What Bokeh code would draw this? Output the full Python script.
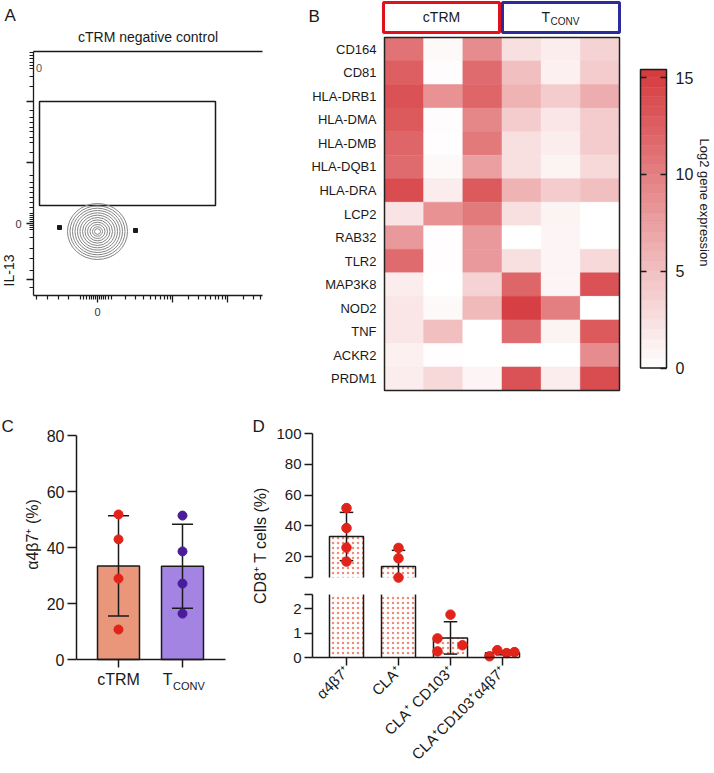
import numpy as np
from bokeh.plotting import figure
from bokeh.models import Range1d, FixedTicker, LinearAxis
from bokeh.transform import linear_cmap
from bokeh.embed import file_html
from bokeh.resources import INLINE
from bokeh.core.properties import value

FONT = "Liberation Sans"
INK = "#1a1a1a"
W, H = 714, 773

# ---------------- Panel A : flow plot (display units) ----------------
a_x_major = [64, 139, 194]
a_x_minor = [3, 14, 25, 35, 47, 50, 53, 56, 58, 60, 62, 66, 68, 70, 72, 75, 78,
             92, 102, 110, 117, 122, 127, 131, 134, 137,
             155, 165, 172, 177, 182, 185, 189, 192, 210, 220, 227]
a_y_major = [194, 133, 72, 16]
a_y_minor = [243, 240, 237, 233, 230, 227, 219, 209,
             185, 178, 173, 168, 164, 158, 153, 143,
             120, 113, 108, 103, 98, 93, 88, 82, 80, 78, 76, 74, 70, 68, 66,
             58, 47, 37, 25, 8]
a_gate = [6, 182, 90, 194]           # left, right, bottom, top
a_pop = [64, 64]                      # population centre
a_ring_rx = [30, 27.5, 25, 22.5, 20, 17.5, 15, 12.5, 10, 7.5, 5, 3]
a_ring_ry = [28, 25.6, 23.3, 21, 18.6, 16.3, 14, 11.6, 9.3, 7, 4.7, 2.8]
a_event_x = [26, 102]
a_event_y = [68, 65]

# ---------------- Panel B : heatmap ----------------
genes = ["CD164", "CD81", "HLA-DRB1", "HLA-DMA", "HLA-DMB", "HLA-DQB1", "HLA-DRA",
         "LCP2", "RAB32", "TLR2", "MAP3K8", "NOD2", "TNF", "ACKR2", "PRDM1"]
samples = ["cTRM 1", "cTRM 2", "cTRM 3", "TCONV 1", "TCONV 2", "TCONV 3"]
expr = [
    [11.0, 0.5, 9.0, 2.5, 1.5, 3.5],
    [12.5, 0.3, 11.5, 5.0, 1.2, 4.0],
    [13.5, 8.5, 12.0, 6.0, 4.0, 6.5],
    [13.0, 0.3, 9.5, 4.0, 2.0, 4.0],
    [12.0, 0.2, 10.5, 2.5, 1.5, 4.0],
    [11.5, 0.5, 7.5, 2.5, 1.0, 3.0],
    [14.0, 1.5, 13.0, 6.0, 4.0, 5.0],
    [2.2, 8.5, 10.5, 2.5, 1.0, 0.0],
    [8.0, 0.2, 8.0, 0.0, 0.8, 0.0],
    [11.5, 0.2, 8.0, 2.5, 0.8, 3.0],
    [1.5, 0.0, 3.5, 12.0, 0.8, 13.5],
    [2.0, 0.5, 5.5, 15.0, 10.0, 0.0],
    [2.0, 5.0, 0.0, 11.5, 1.0, 13.0],
    [1.2, 0.2, 0.0, 0.0, 0.0, 9.0],
    [1.5, 3.0, 0.8, 13.5, 1.5, 14.0],
]
cbar_ticks = [0, 5, 10, 15]
cbar_max = 15.41

# ---------------- Panel C ----------------
c_groups = ["cTRM", "TCONV"]
c_pos = [1, 2]
c_mean = [33.4, 33.3]
c_sd = [17.9, 15.0]
c_pts_ctrm = [51.8, 42.9, 28.9, 10.7]
c_pts_tconv = [51.4, 38.6, 27.1, 16.4]
c_bar_colors = ["#E9967A", "#A384E3"]
c_pt_colors = ["#E2231A", "#4A1C9C"]
c_yticks = [0, 20, 40, 60, 80]

# ---------------- Panel D ----------------
d_labels = ["α4β7⁺", "CLA⁺", "CLA⁺ CD103⁺", "CLA⁺CD103⁺α4β7⁺"]
d_pos = [1, 2, 3, 4]
d_mean = [33.0, 13.5, 0.80, 0.19]
d_sd = [15.7, 10.5, 0.66, 0.08]
d_pt_x = [1, 1, 1, 1, 2, 2, 2, 2.75, 2.75, 3, 3.23, 3.75, 3.9, 4.08, 4.23]
d_pt_y = [51.5, 38.5, 25.8, 16.7, 25.6, 18.8, 6.3, 0.78, 0.25, 1.75, 0.5, 0.05, 0.3, 0.18, 0.22]
d_upper = (6.3, 100.0)     # upper axis segment
d_lower = (0.0, 2.57)      # lower axis segment
d_upper_ticks = [20, 40, 60, 80, 100]
d_lower_ticks = [0, 1, 2]


def make_palette(n=256, lo=(255, 255, 255), hi=(213, 58, 62)):
    out = []
    for i in range(n):
        t = i / (n - 1)
        c = [round(lo[k] + (hi[k] - lo[k]) * t) for k in range(3)]
        out.append("#%02x%02x%02x" % tuple(c))
    return out


PAL = make_palette()


def xr(v0, p0, v1, p1):
    """x range so that value v0 sits at pixel p0 and v1 at pixel p1."""
    s = (p1 - p0) / (v1 - v0)
    start = v0 - p0 / s
    return Range1d(start, start + W / s)


def yr(v0, p0, v1, p1):
    """y range so that value v0 sits at pixel row p0 and v1 at row p1 (rows from top)."""
    b0, b1 = H - p0, H - p1
    s = (b1 - b0) / (v1 - v0)
    start = v0 - b0 / s
    return Range1d(start, start + H / s)


p = figure(width=W, height=H, output_backend="svg", toolbar_location=None,
           x_range=Range1d(0, W), y_range=Range1d(0, H),
           x_axis_location=None, y_axis_location=None, min_border=0)
p.outline_line_color = None
p.xgrid.visible = False
p.ygrid.visible = False

# panel placement (pixel anchors of each panel's axes)
p.extra_x_ranges = {
    "ax": xr(0, 33, 229, 262),
    "bx": xr(-0.5, 384, 5.5, 619),
    "kx": xr(0, 640, 1, 666),
    "cx": xr(1, 118, 2, 182),
    "dx": xr(1, 346, 2, 398),
}
p.extra_y_ranges = {
    "ay": yr(0, 295, 244, 51),
    "by": yr(-0.5, 390, 14.5, 37),
    "ky": yr(0, 367.5, 15, 77),
    "cy": yr(0, 659, 80, 435),
    "duy": yr(20, 556, 100, 433),
    "dly": yr(0, 657, 2, 608),
}


def R(a, b):
    return dict(x_range_name=a, y_range_name=b)


def txt(xn, yn, x, y, s, size, align="left", baseline="middle", angle=0.0, color=INK):
    p.text(x=[x], y=[y], text=[s], text_font=value(FONT), text_font_size=size,
           text_align=align, text_baseline=baseline, angle=angle, text_color=color, **R(xn, yn))


def axis(side, xn, yn, loc, ticks, bounds, size="16px", tick_out=8, tick_in=0, overrides=None,
         minor=None, line=True, width=1.5, standoff=3, label_color=INK, ticks_visible=True):
    ax = LinearAxis(x_range_name=xn, y_range_name=yn, fixed_location=loc,
                    ticker=FixedTicker(ticks=ticks, minor_ticks=minor or []), bounds=bounds)
    ax.axis_line_width = width
    ax.axis_line_color = INK if line else None
    ax.major_tick_line_width = width
    ax.major_tick_line_color = INK if ticks_visible else None
    ax.major_tick_out = tick_out
    ax.major_tick_in = tick_in
    if minor:
        ax.minor_tick_line_color = INK
        ax.minor_tick_line_width = 1.2
        ax.minor_tick_out = 4
        ax.minor_tick_in = 0
    else:
        ax.minor_tick_line_color = None
    ax.major_label_text_font = FONT
    ax.major_label_text_font_size = size
    ax.major_label_text_color = label_color
    ax.major_label_standoff = standoff
    if overrides is not None:
        ax.major_label_overrides = overrides
    p.add_layout(ax, side)
    return ax


# ======================= Panel A =======================
axis("below", "ax", "ay", 0, a_x_major, (0, 229), size="11px", tick_out=7, width=1.3,
     minor=a_x_minor, overrides={64: "0", 139: "", 194: ""}, standoff=5, label_color="#333333")
axis("left", "ax", "ay", 0, a_y_major, (0, 244), size="11px", tick_out=7, width=1.3,
     minor=a_y_minor, overrides={194: "", 133: "", 72: "0", 16: ""}, standoff=5, label_color="#333333")
axis("above", "ax", "ay", 244, [], (0, 229), width=1.5, ticks_visible=False)
p.quad(left=[a_gate[0]], right=[a_gate[1]], bottom=[a_gate[2]], top=[a_gate[3]],
       fill_color=None, line_color=INK, line_width=1.5, **R("ax", "ay"))
n = len(a_ring_rx)
p.ellipse(x=[a_pop[0]] * n, y=[a_pop[1]] * n, width=[2 * r for r in a_ring_rx],
          height=[2 * r for r in a_ring_ry], fill_color=None, line_color="#858585",
          line_width=1, **R("ax", "ay"))
p.scatter(a_event_x, a_event_y, marker="square", size=4, color=INK, **R("ax", "ay"))
txt("ax", "ay", 5.5, 228, "0", "11px", align="center", color="#555555")
txt("ax", "ay", 114.5, 259, "cTRM negative control", "14px", align="center")
txt("ax", "ay", -29, 280, "A", "17px")
txt("ax", "ay", -25, 25, "IL-13", "14px", align="center", angle=np.pi / 2)

# ======================= Panel B =======================
ncol, nrow = len(samples), len(genes)
hx, hy, hv = [], [], []
for i in range(nrow):
    for j in range(ncol):
        hx.append(j)
        hy.append(nrow - 1 - i)
        hv.append(expr[i][j])
cm = linear_cmap("v", PAL, 0, cbar_max)
p.rect(x="x", y="y", width=1, height=1, source=dict(x=hx, y=hy, v=hv),
       fill_color=cm, line_color=cm, line_width=0.5, **R("bx", "by"))
p.quad(left=[-0.5], right=[ncol - 0.5], bottom=[-0.5], top=[nrow - 0.5],
       fill_color=None, line_color="#222222", line_width=1.5, **R("bx", "by"))
axis("left", "bx", "by", -0.5, list(range(nrow)), (-0.5, nrow - 0.5), size="13px",
     line=False, ticks_visible=False, tick_out=0,
     overrides={nrow - 1 - i: g for i, g in enumerate(genes)}, standoff=8)
# group header boxes
p.quad(left=[-0.5255, 2.5127], right=[2.436, 5.5], bottom=[14.7125, 14.7125],
       top=[15.987, 15.987], fill_color=None, line_color=["#E0101E", "#2B2B99"],
       line_width=3, **R("bx", "by"))
txt("bx", "by", 0.955, 15.35, "cTRM", "14px", align="center")
txt("bx", "by", 3.7255, 15.392, "T", "14px", align="right")
txt("bx", "by", 3.738, 15.20, "CONV", "10px", align="left")
txt("bx", "by", -2.44, 15.392, "B", "17px")

# colour bar
cb_lo = np.arange(0, cbar_max, 0.5)
cb_hi = np.minimum(cb_lo + 0.5, cbar_max)
cbm = linear_cmap("m", PAL, 0, cbar_max)
p.quad(left=0, right=1, bottom="b", top="t", source=dict(b=cb_lo, t=cb_hi, m=(cb_lo + cb_hi) / 2),
       fill_color=cbm, line_color=cbm, line_width=0.5, **R("kx", "ky"))
p.quad(left=[0], right=[1], bottom=[0], top=[cbar_max], fill_color=None, line_color=INK,
       line_width=1.5, **R("kx", "ky"))
axis("left", "kx", "ky", 0, cbar_ticks[1:], (0, cbar_max), line=False, tick_out=0, tick_in=6,
     width=1.3, overrides={t: "" for t in cbar_ticks[1:]})
axis("right", "kx", "ky", 1, cbar_ticks, (0, cbar_max), line=False, tick_out=0, tick_in=6,
     width=1.3, size="16px", standoff=9)
txt("kx", "ky", 2.47, (367.5 - 202) / ((367.5 - 77) / 15), "Log2 gene expression", "13px",
    align="center", angle=-np.pi / 2)

# ======================= Panel C =======================
axis("left", "cx", "cy", 0.344, c_yticks, (0, 80), size="16px", tick_out=9)
axis("below", "cx", "cy", 0, c_pos, (0.344, 2.672), size="16px", tick_out=8,
     overrides={1: "cTRM", 2: ""})
cw = 0.328
p.quad(left=[x - cw for x in c_pos], right=[x + cw for x in c_pos], bottom=0, top=c_mean,
       fill_color=c_bar_colors, line_color=INK, line_width=1.5, **R("cx", "cy"))
c_lo = [m - s for m, s in zip(c_mean, c_sd)]
c_hi = [m + s for m, s in zip(c_mean, c_sd)]
p.segment(x0=c_pos, y0=c_lo, x1=c_pos, y1=c_hi, line_color=INK, line_width=1.5, **R("cx", "cy"))
cap = 0.164
for ys in (c_lo, c_hi):
    p.segment(x0=[x - cap for x in c_pos], y0=ys, x1=[x + cap for x in c_pos], y1=ys,
              line_color=INK, line_width=1.5, **R("cx", "cy"))
p.scatter([c_pos[0]] * len(c_pts_ctrm), c_pts_ctrm, size=9, color=c_pt_colors[0], **R("cx", "cy"))
p.scatter([c_pos[1]] * len(c_pts_tconv), c_pts_tconv, size=9, color=c_pt_colors[1], **R("cx", "cy"))
txt("cx", "cy", 1.844, -7.14, "T", "16px", align="right")
txt("cx", "cy", 1.852, -9.64, "CONV", "11px", align="left")
txt("cx", "cy", -0.344, 44.64, "α4β7⁺ (%)", "16px", align="center", angle=np.pi / 2)
txt("cx", "cy", -0.828, 83.2, "C", "17px")
txt("cx", "cy", 3.094, 83.2, "D", "17px")
txt("cx", "cy", 3.22, 40.71, "CD8⁺ T cells (%)", "16px", align="center", angle=np.pi / 2)

# ======================= Panel D (broken y axis) =======================
d_left, d_right = 0.346, 4.327
dw, dcap = 0.327, 0.13
hatch = dict(fill_color="white", hatch_pattern=".", hatch_color="#F08A78",
             hatch_scale=5, hatch_weight=1.3, line_color=None)

axis("left", "dx", "duy", d_left, [d_upper[0]] + d_upper_ticks, d_upper, size="15px",
     tick_out=8, overrides={d_upper[0]: ""})
axis("left", "dx", "dly", d_left, d_lower_ticks + [d_lower[1]], d_lower, size="15px",
     tick_out=8, overrides={d_lower[1]: ""})
xa = axis("below", "dx", "dly", 0, d_pos, (d_left, d_right), size="15px", tick_out=8,
          overrides={k: l for k, l in zip(d_pos, d_labels)})
xa.major_label_orientation = np.pi / 4


def draw_segment(lo, hi, yname):
    bx, bb, bt, ox, oy = [], [], [], [], []
    for x, m in zip(d_pos, d_mean):
        if m <= lo:
            continue
        top = min(m, hi)
        bx.append(x)
        bb.append(lo)
        bt.append(top)
        if m <= hi:
            ox.append([x - dw, x - dw, x + dw, x + dw])
            oy.append([lo, m, m, lo])
        else:
            ox += [[x - dw, x - dw], [x + dw, x + dw]]
            oy += [[lo, hi], [lo, hi]]
    p.quad(left=[x - dw for x in bx], right=[x + dw for x in bx], bottom=bb, top=bt,
           **hatch, **R("dx", yname))
    p.multi_line(xs=ox, ys=oy, line_color=INK, line_width=1.5, **R("dx", yname))
    ex, e0, e1, cx_, cy_ = [], [], [], [], []
    for x, m, s in zip(d_pos, d_mean, d_sd):
        a, b = max(m - s, lo), min(m + s, hi)
        if a < b:
            ex.append(x)
            e0.append(a)
            e1.append(b)
        for v in (m - s, m + s):
            if lo <= v <= hi:
                cx_.append(x)
                cy_.append(v)
    p.segment(x0=ex, y0=e0, x1=ex, y1=e1, line_color=INK, line_width=1.5, **R("dx", yname))
    p.segment(x0=[x - dcap for x in cx_], y0=cy_, x1=[x + dcap for x in cx_], y1=cy_,
              line_color=INK, line_width=1.5, **R("dx", yname))
    px_ = [x for x, y in zip(d_pt_x, d_pt_y) if lo <= y <= hi]
    py_ = [y for y in d_pt_y if lo <= y <= hi]
    p.scatter(px_, py_, size=9.5, color="#E2231A", **R("dx", yname))


draw_segment(d_upper[0], d_upper[1], "duy")
draw_segment(d_lower[0], d_lower[1], "dly")

open("out.html", "w").write(file_html(p, INLINE, "figure"))
